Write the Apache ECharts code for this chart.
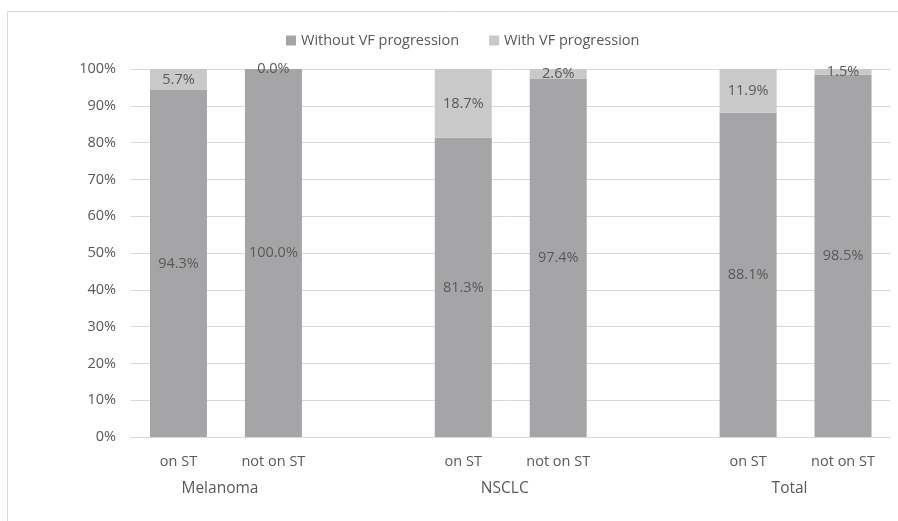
<!DOCTYPE html>
<html><head><meta charset="utf-8">
<script src="https://cdn.jsdelivr.net/npm/echarts@6/dist/echarts.min.js"></script>
<style>html,body{margin:0;padding:0;background:#fff}#c{width:898px;height:521px}</style>
</head><body><div id="c"></div>
<script>
const categories = ['on ST','not on ST','','on ST','not on ST','','on ST','not on ST'];
const groupLabels = ['','Melanoma','','','NSCLC','','','Total',''];
const withoutVF = [94.3, 100.0, null, 81.3, 97.4, null, 88.1, 98.5];
const withVF = [5.7, 0.0, null, 18.7, 2.6, null, 11.9, 1.5];
const yTicks = [0,10,20,30,40,50,60,70,80,90,100];

const font = 'Open Sans';
const txt = '#595959';
const chart = echarts.init(document.getElementById('c'));
const lbl = {show:true, position:'inside', color:txt, fontFamily:font, fontSize:14.5,
  formatter: p => p.value == null ? '' : p.value.toFixed(1) + '%'};
chart.setOption({
  animation:false,
  graphic:[{type:'rect', shape:{x:7.5,y:11.5,width:1000,height:1000}, style:{fill:'none', stroke:'#d9d9d9', lineWidth:1}}],
  legend:{top:28, left:281, itemWidth:10, itemHeight:10, itemGap:30,
    textStyle:{color:txt, fontFamily:font, fontSize:14.5},
    data:[{name:'Without VF progression', icon:'rect'},{name:'With VF progression', icon:'rect'}]},
  grid:{left:131, right:7.5, top:69, bottom:84},
  xAxis:[
    {type:'category', data:categories, axisTick:{show:false},
     axisLine:{lineStyle:{color:'#d9d9d9'}},
     axisLabel:{color:txt, fontFamily:font, fontSize:14.5, margin:17, interval:0}},
    {type:'category', data:groupLabels, position:'bottom', offset:27, boundaryGap:false,
     axisTick:{show:false}, axisLine:{show:false},
     axisLabel:{color:txt, fontFamily:font, fontSize:15.5, margin:17, interval:0, padding:[0,12,0,0]}}
  ],
  yAxis:{type:'value', min:yTicks[0], max:yTicks[yTicks.length-1], interval:10,
    axisLabel:{color:txt, fontFamily:font, fontSize:14.5, margin:15, formatter:'{value}%'},
    splitLine:{lineStyle:{color:'#d9d9d9'}}, axisLine:{show:false}, axisTick:{show:false}},
  series:[
    {name:'Without VF progression', type:'bar', stack:'s', data:withoutVF, barWidth:57,
     itemStyle:{color:'#a5a5a7'}, label:lbl},
    {name:'With VF progression', type:'bar', stack:'s', data:withVF, barWidth:57,
     itemStyle:{color:'#c9c9c9'}, label:lbl}
  ]
});
</script></body></html>
